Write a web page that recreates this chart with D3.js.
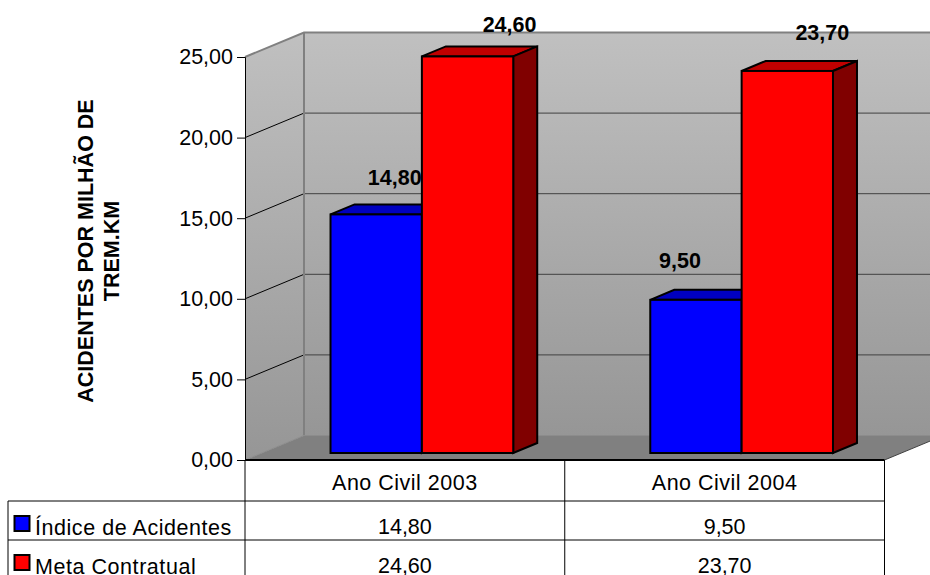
<!DOCTYPE html>
<html>
<head>
<meta charset="utf-8">
<script src="https://cdn.jsdelivr.net/npm/d3@7"></script>
<style>
  html, body { margin: 0; padding: 0; background: #fff; overflow: hidden; }
  svg { display: block; }
  text { font-family: "Liberation Sans", Arial, sans-serif; fill: #000; }
</style>
</head>
<body>
<svg id="chart" width="930" height="575"></svg>
<script>
const categories = ["Ano Civil 2003", "Ano Civil 2004"];
const seriesNames = ["Índice de Acidentes", "Meta Contratual"];
const indice = [14.8, 9.5];
const meta = [24.6, 23.7];
const yTicks = [0, 5, 10, 15, 20, 25];
const colors = ["#0000ff", "#ff0000"];
const topColors = ["#0000c0", "#c00000"];
const sideColors = ["#000080", "#800000"];

const W = 930, H = 575;
const fmt = v => d3.format(".2f")(v).replace(".", ",");

const svg = d3.select("#chart");
const defs = svg.append("defs");
const grad = defs.append("linearGradient").attr("id", "wall")
  .attr("x1", 0).attr("y1", 0).attr("x2", 0).attr("y2", 1);
grad.append("stop").attr("offset", "0%").attr("stop-color", "#c0c0c0");
grad.append("stop").attr("offset", "100%").attr("stop-color", "#969696");

// front plane of the plot, walls are pushed back by depth
const y = d3.scaleLinear().domain([0, 25]).range([460, 57]);
const x = d3.scaleBand().domain(categories).range([245, 884.5]);
const depth = { x: 59, y: -24.5 };
const barOff = { x: 17, y: -7 };   // bars sit a bit behind the front plane
const barDepth = { x: 24, y: -10 };
const xInner = d3.scaleBand().domain(d3.range(2)).range([0, x.bandwidth()])
  .paddingOuter(0.75).paddingInner(0);

const pts = a => a.map(p => p.join(",")).join(" ");
const L = x.range()[0], R = x.range()[1];
const yTop = y(25), yBot = y(0);

// back wall
svg.append("rect")
  .attr("x", L + depth.x).attr("y", yTop + depth.y)
  .attr("width", W - L - depth.x).attr("height", yBot - yTop)
  .attr("fill", "url(#wall)");
// side wall
svg.append("polygon")
  .attr("points", pts([[L, yTop], [L + depth.x, yTop + depth.y], [L + depth.x, yBot + depth.y], [L, yBot]]))
  .attr("fill", "url(#wall)");
// floor
svg.append("polygon")
  .attr("points", pts([[L, yBot], [L + depth.x, yBot + depth.y], [R + depth.x, yBot + depth.y], [R, yBot]]))
  .attr("fill", "#808080");

// gridlines
yTicks.slice(1, -1).forEach(t => {
  svg.append("line")
    .attr("x1", L + depth.x).attr("x2", W)
    .attr("y1", y(t) + depth.y).attr("y2", y(t) + depth.y)
    .attr("stroke", "#404040").attr("stroke-width", 1);
  svg.append("line")
    .attr("x1", L).attr("x2", L + depth.x)
    .attr("y1", y(t)).attr("y2", y(t) + depth.y)
    .attr("stroke", "#000").attr("stroke-width", 1);
});

// wall edges
svg.append("polyline")
  .attr("points", pts([[L, yTop], [L + depth.x, yTop + depth.y], [W, yTop + depth.y]]))
  .attr("fill", "none").attr("stroke", "#808080").attr("stroke-width", 2);
svg.append("line")
  .attr("x1", L + depth.x).attr("x2", L + depth.x)
  .attr("y1", yTop + depth.y).attr("y2", yBot + depth.y)
  .attr("stroke", "#808080").attr("stroke-width", 2);
svg.append("line")
  .attr("x1", L + depth.x).attr("x2", W)
  .attr("y1", yBot + depth.y).attr("y2", yBot + depth.y)
  .attr("stroke", "#8c8c8c").attr("stroke-width", 1);
svg.append("line")
  .attr("x1", L).attr("x2", L + depth.x)
  .attr("y1", yBot).attr("y2", yBot + depth.y)
  .attr("stroke", "#8c8c8c").attr("stroke-width", 1);
svg.append("line")
  .attr("x1", R).attr("x2", R + depth.x)
  .attr("y1", yBot).attr("y2", yBot + depth.y)
  .attr("stroke", "#404040").attr("stroke-width", 1);

// bars
[indice, meta].forEach((vals, s) => {
  const g = svg.append("g").attr("stroke", "#000").attr("stroke-width", 2).attr("stroke-linejoin", "miter");
  vals.forEach((v, i) => {
    const x0 = x(categories[i]) + xInner(s) + barOff.x;
    const x1 = x0 + xInner.bandwidth();
    const y0 = y(0) + barOff.y;
    const y1 = y(v) + barOff.y;
    const dx = barDepth.x, dy = barDepth.y;
    g.append("polygon").attr("points", pts([[x0, y1], [x0 + dx, y1 + dy], [x1 + dx, y1 + dy], [x1, y1]]))
      .attr("fill", topColors[s]);
    g.append("polygon").attr("points", pts([[x1, y1], [x1 + dx, y1 + dy], [x1 + dx, y0 + dy], [x1, y0]]))
      .attr("fill", sideColors[s]);
    g.append("rect").attr("x", x0).attr("y", y1).attr("width", x1 - x0).attr("height", y0 - y1)
      .attr("fill", colors[s]);
  });
});

// value labels, nudged by hand like the original ones
const labelNudge = [[[18.5, -29], [-16, -32]], [[42, -24], [35, -31]]];
[indice, meta].forEach((vals, s) => {
  vals.forEach((v, i) => {
    const x0 = x(categories[i]) + xInner(s) + barOff.x;
    const yy = y(v) + barOff.y;
    const [nx, ny] = labelNudge[s][i];
    svg.append("text").attr("x", x0 + xInner.bandwidth() / 2 + nx).attr("y", yy + ny)
      .attr("text-anchor", "middle").attr("font-size", 21.5).attr("font-weight", "bold")
      .text(fmt(v));
  });
});

// y axis
const axis = svg.append("g").attr("transform", `translate(${L},0)`)
  .call(d3.axisLeft(y).tickValues(yTicks).tickFormat(fmt).tickSize(8).tickPadding(4));
axis.select(".domain").attr("stroke", "#000").attr("stroke-width", 1);
axis.selectAll(".tick line").attr("stroke", "#000");
axis.selectAll(".tick text").attr("font-size", 21.5).attr("font-family", null).attr("fill", "#000");

// y title
const titleLines = ["ACIDENTES POR MILHÃO DE", "TREM.KM"];
titleLines.forEach((t, i) => {
  svg.append("text")
    .attr("transform", `translate(${93 + i * 26},251) rotate(-90)`)
    .attr("text-anchor", "middle").attr("font-size", 21.5).attr("font-weight", "bold")
    .text(t);
});

// data table
const rowY = [460, 501, 540, 579];
const rows = [indice, meta];
const T = svg.append("g").attr("stroke", "#000").attr("stroke-width", 1);
T.append("line").attr("x1", 8).attr("x2", R).attr("y1", rowY[1]).attr("y2", rowY[1]);
T.append("line").attr("x1", 8).attr("x2", R).attr("y1", rowY[2]).attr("y2", rowY[2]);
T.append("line").attr("x1", 8).attr("x2", 8).attr("y1", rowY[1]).attr("y2", rowY[3]);
[L, x(categories[1]), R].forEach(px => {
  T.append("line").attr("x1", px).attr("x2", px).attr("y1", yBot).attr("y2", rowY[3]);
});
svg.append("line").attr("x1", L).attr("x2", R).attr("y1", yBot).attr("y2", yBot)
  .attr("stroke", "#000").attr("stroke-width", 2);

categories.forEach((c, i) => {
  const cx = x(c) + x.bandwidth() / 2;
  svg.append("text").attr("x", cx).attr("y", 490).attr("text-anchor", "middle").attr("font-size", 21.5)
    .attr("letter-spacing", 0.5).text(c);
  rows.forEach((r, s) => {
    svg.append("text").attr("x", cx).attr("y", rowY[s + 1] + 32.5).attr("text-anchor", "middle")
      .attr("font-size", 21.5).text(fmt(r[i]));
  });
});

seriesNames.forEach((n, s) => {
  const top = rowY[s + 1] + 15;
  svg.append("rect").attr("x", 14.5).attr("y", top).attr("width", 15).attr("height", 15)
    .attr("fill", colors[s]).attr("stroke", "#000").attr("stroke-width", 2);
  svg.append("text").attr("x", 35).attr("y", rowY[s + 1] + 33.5).attr("font-size", 21.5)
    .attr("letter-spacing", 0.55).text(n);
});
</script>
</body>
</html>
